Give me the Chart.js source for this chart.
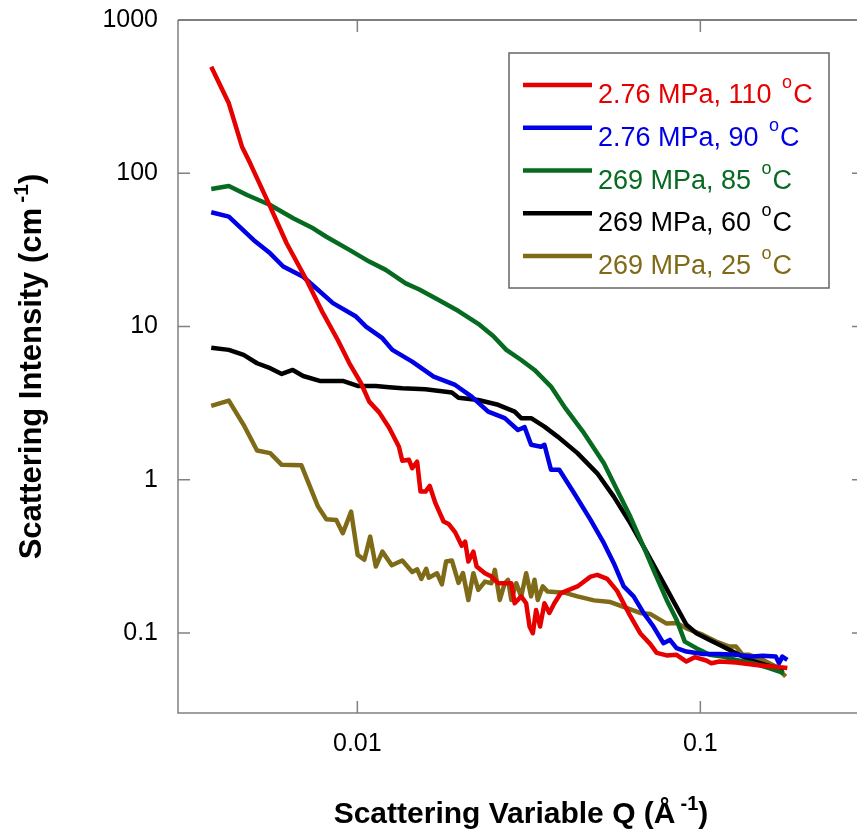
<!DOCTYPE html>
<html>
<head>
<meta charset="utf-8">
<title>Scattering intensity</title>
<script src="https://cdn.jsdelivr.net/npm/chart.js@4.4.1/dist/chart.umd.min.js"></script>
<style>
    html, body { margin: 0; padding: 0; background: #fff; overflow: hidden; }
    /* the plot runs a little past the right edge of the window, like the original */
    #wrap { position: relative; width: 880px; height: 830px; }
</style>
</head>
<body>
<div id="wrap"><canvas id="chart"></canvas></div>
<script>
// Q in 1/Angstrom, intensity in 1/cm
const qRed = [0.00375, 0.00422, 0.00461, 0.00487, 0.00557, 0.00622, 0.00711, 0.00794, 0.00877, 0.00948,
    0.01025, 0.01083, 0.01158, 0.01238, 0.01322, 0.01352, 0.01414, 0.01445, 0.01494, 0.01528,
    0.0158, 0.01626, 0.01689, 0.01784, 0.01845, 0.01929, 0.02015, 0.02062, 0.02107, 0.02179,
    0.02227, 0.02355, 0.0246, 0.02573, 0.02811, 0.02875, 0.03004, 0.03106, 0.03177, 0.03248,
    0.0332, 0.0341, 0.03511, 0.03629, 0.03752, 0.03921, 0.04382, 0.04786, 0.05005, 0.05351,
    0.05718, 0.06247, 0.06677, 0.07137, 0.07462, 0.07975, 0.08523, 0.09109, 0.09628, 0.1041,
    0.1076, 0.1137, 0.1271, 0.1452, 0.1623, 0.1793];
const iRed = [496, 286, 149, 116, 60.5, 34.9, 20.1, 12.2, 8.16, 5.75,
    4.26, 3.23, 2.75, 2.18, 1.64, 1.33, 1.35, 1.19, 1.31, 0.836,
    0.836, 0.910, 0.702, 0.533, 0.514, 0.453, 0.370, 0.394, 0.292, 0.339,
    0.271, 0.245, 0.233, 0.211, 0.211, 0.156, 0.173, 0.156, 0.110, 0.0995,
    0.141, 0.110, 0.156, 0.135, 0.156, 0.182, 0.201, 0.233, 0.239, 0.225,
    0.188, 0.129, 0.0995, 0.0848, 0.0741, 0.0713, 0.0719, 0.0650, 0.0694, 0.0660,
    0.0634, 0.0650, 0.0640, 0.0618, 0.0603, 0.0589];

const qBlue = [0.00375, 0.00422, 0.00498, 0.00557, 0.00608, 0.00695, 0.0076, 0.00849, 0.00991, 0.0106,
    0.01183, 0.01265, 0.01445, 0.01669, 0.01929, 0.02154, 0.02407, 0.0269, 0.02939, 0.03074,
    0.03211, 0.03432, 0.03511, 0.03669, 0.03879, 0.04287, 0.04786, 0.05233, 0.05593, 0.05978,
    0.06389, 0.06829, 0.07299, 0.07803, 0.08153, 0.08523, 0.09109, 0.1018, 0.1137, 0.1271,
    0.142, 0.1518, 0.1659, 0.1696, 0.1734, 0.1793];
const iBlue = [55.6, 52.1, 36.7, 30.0, 24.6, 21.1, 17.7, 14.2, 11.6, 9.97,
    8.38, 7.03, 5.89, 4.70, 4.15, 3.48, 2.78, 2.52, 2.11, 2.20,
    1.69, 1.64, 1.69, 1.16, 1.16, 0.816, 0.546, 0.385, 0.285, 0.201,
    0.173, 0.135, 0.110, 0.0857, 0.0900, 0.0795, 0.0755, 0.0729, 0.0729, 0.0719,
    0.0700, 0.0708, 0.0700, 0.0634, 0.0700, 0.0667];

const qGreen = [0.00375, 0.00422, 0.00477, 0.00557, 0.0065, 0.00743, 0.00812, 0.00948, 0.01083, 0.0121,
    0.01383, 0.01511, 0.01726, 0.01972, 0.02252, 0.02489, 0.02719, 0.03004, 0.03285, 0.03669,
    0.0401, 0.04581, 0.05233, 0.05718, 0.06247, 0.06829, 0.07299, 0.07975, 0.08523, 0.09009,
    0.09737, 0.1064, 0.1163, 0.1271, 0.142, 0.1586, 0.1752];
const iGreen = [78.9, 82.6, 72.1, 62.0, 50.8, 43.7, 38.5, 31.6, 26.5, 23.4,
    19.1, 17.5, 14.9, 12.6, 10.4, 8.67, 7.03, 6.04, 5.20, 4.05,
    3.00, 2.01, 1.28, 0.857, 0.574, 0.366, 0.258, 0.164, 0.122, 0.0877,
    0.0795, 0.0719, 0.0700, 0.0667, 0.0634, 0.0589, 0.0546];

const qBlack = [0.00375, 0.00422, 0.00466, 0.0051, 0.00557, 0.00602, 0.00648, 0.00695, 0.00777, 0.00907,
    0.01002, 0.01132, 0.01238, 0.01352, 0.0158, 0.01886, 0.01972, 0.02252, 0.02573, 0.02875,
    0.03004, 0.03211, 0.03511, 0.03835, 0.04382, 0.05005, 0.05593, 0.06247, 0.06829, 0.07629,
    0.08523, 0.09109, 0.09737, 0.1064, 0.1163, 0.1271, 0.1389, 0.1552, 0.1752];
const iBlack = [7.27, 7.03, 6.52, 5.75, 5.34, 4.90, 5.20, 4.75, 4.41, 4.41,
    4.09, 4.09, 4.01, 3.95, 3.89, 3.70, 3.42, 3.31, 3.08, 2.78,
    2.52, 2.52, 2.22, 1.91, 1.49, 1.10, 0.775, 0.520, 0.366, 0.233,
    0.148, 0.113, 0.0995, 0.0900, 0.0814, 0.0737, 0.0667, 0.0618, 0.0574];

const qOlive = [0.00375, 0.00422, 0.00466, 0.0051, 0.00557, 0.00602, 0.00687, 0.00768, 0.00812, 0.00868,
    0.00907, 0.00959, 0.01002, 0.01048, 0.0109, 0.01132, 0.01183, 0.0126, 0.01352, 0.01445,
    0.01494, 0.01536, 0.01588, 0.01615, 0.01707, 0.01764, 0.01814, 0.01886, 0.01972, 0.02032,
    0.02107, 0.02179, 0.02252, 0.02355, 0.0246, 0.02517, 0.02602, 0.0269, 0.0275, 0.02811,
    0.02906, 0.03004, 0.03106, 0.03211, 0.03285, 0.03357, 0.03471, 0.03588, 0.0401, 0.04382,
    0.04897, 0.05468, 0.06111, 0.06677, 0.07137, 0.07975, 0.08523, 0.09109, 0.1018, 0.1112,
    0.1215, 0.1271, 0.1329, 0.1389, 0.1518, 0.1659, 0.1773];
const iOlive = [3.03, 3.28, 2.28, 1.55, 1.49, 1.25, 1.24, 0.667, 0.552, 0.546,
    0.447, 0.619, 0.323, 0.300, 0.425, 0.271, 0.339, 0.276, 0.297, 0.250,
    0.260, 0.225, 0.262, 0.229, 0.245, 0.207, 0.292, 0.297, 0.212, 0.246,
    0.164, 0.245, 0.191, 0.216, 0.211, 0.258, 0.164, 0.211, 0.222, 0.164,
    0.211, 0.173, 0.245, 0.173, 0.222, 0.164, 0.201, 0.186, 0.183, 0.173,
    0.163, 0.159, 0.145, 0.135, 0.133, 0.115, 0.116, 0.107, 0.097, 0.0877,
    0.0814, 0.0814, 0.0719, 0.0719, 0.0667, 0.0603, 0.0519];

const seriesLabels = ['2.76 MPa, 110 °C', '2.76 MPa, 90 °C', '269 MPa, 85 °C', '269 MPa, 60 °C', '269 MPa, 25 °C'];
const seriesColors = ['#e60000', '#0000e6', '#066a20', '#000000', '#7f6b17'];

const xTickValues = [0.01, 0.1];
const yTickValues = [0.1, 1, 10, 100, 1000];
const xTitleParts = ['Scattering Variable Q (Å', '-1', ')'];
const yTitleParts = ['Scattering Intensity (cm', '-1', ')'];

const FONT = "'Liberation Sans', Arial, sans-serif";

function toPoints(qs, vals) {
    return qs.map((q, k) => ({ x: q, y: vals[k] }));
}

function tickLabel(value, list) {
    const hit = list.find(t => Math.abs(value / t - 1) < 1e-6);
    return hit === undefined ? '' : String(hit);
}

// title text with a raised "-1"
function drawRich(ctx, parts, cx, baseY, size) {
    const big = 'bold ' + size + 'px ' + FONT;
    const small = 'bold ' + Math.round(size * 0.67) + 'px ' + FONT;
    ctx.font = big;
    const w0 = ctx.measureText(parts[0]).width;
    const w2 = ctx.measureText(parts[2]).width;
    ctx.font = small;
    const w1 = ctx.measureText(parts[1]).width;
    const gap = size * 0.17;
    let x = cx - (w0 + gap + w1 + w2) / 2;
    ctx.fillStyle = '#000';
    ctx.textAlign = 'left';
    ctx.textBaseline = 'alphabetic';
    ctx.font = big;
    ctx.fillText(parts[0], x, baseY);
    x += w0 + gap;
    ctx.font = small;
    ctx.fillText(parts[1], x, baseY - size * 0.43);
    x += w1;
    ctx.font = big;
    ctx.fillText(parts[2], x, baseY);
}

const framePlugin = {
    id: 'framePlugin',
    afterDraw(chart) {
        const ctx = chart.ctx;
        const ca = chart.chartArea;
        const xs = chart.scales.x;
        const ys = chart.scales.y;
        ctx.save();

        // axes: grey left/bottom/right, black top
        ctx.lineWidth = 1.5;
        ctx.strokeStyle = '#808080';
        ctx.beginPath();
        ctx.moveTo(ca.left, ca.top);
        ctx.lineTo(ca.left, ca.bottom);
        ctx.lineTo(ca.right, ca.bottom);
        ctx.lineTo(ca.right, ca.top);
        ctx.stroke();
        ctx.strokeStyle = '#000';
        ctx.lineWidth = 1.2;
        ctx.beginPath();
        ctx.moveTo(ca.left, ca.top);
        ctx.lineTo(ca.right, ca.top);
        ctx.stroke();

        // inward tick marks at the decades
        const tl = 12;
        ctx.strokeStyle = '#808080';
        ctx.lineWidth = 1.5;
        ctx.beginPath();
        xTickValues.forEach(v => {
            const px = xs.getPixelForValue(v);
            ctx.moveTo(px, ca.bottom); ctx.lineTo(px, ca.bottom - tl);
            ctx.moveTo(px, ca.top); ctx.lineTo(px, ca.top + tl);
        });
        yTickValues.forEach(v => {
            const py = ys.getPixelForValue(v);
            ctx.moveTo(ca.left, py); ctx.lineTo(ca.left + tl, py);
            ctx.moveTo(ca.right, py); ctx.lineTo(ca.right - tl, py);
        });
        ctx.stroke();

        // legend box, top right inside the plot
        const bx = ca.right - 355, by = ca.top + 33, bw = 320, bh = 235;
        ctx.fillStyle = '#fff';
        ctx.fillRect(bx, by, bw, bh);
        ctx.strokeStyle = '#666';
        ctx.lineWidth = 1.5;
        ctx.strokeRect(bx, by, bw, bh);
        chart.data.datasets.forEach((ds, k) => {
            const ly = by + 32 + k * 42.75;
            ctx.strokeStyle = ds.borderColor;
            ctx.lineWidth = 4.5;
            ctx.beginPath();
            ctx.moveTo(bx + 14, ly);
            ctx.lineTo(bx + 83, ly);
            ctx.stroke();

            const parts = ds.label.split('°');
            const base = ly + 18;
            let tx = bx + 89;
            ctx.fillStyle = ds.borderColor;
            ctx.textAlign = 'left';
            ctx.textBaseline = 'alphabetic';
            ctx.font = '27px ' + FONT;
            ctx.fillText(parts[0], tx, base);
            tx += ctx.measureText(parts[0]).width + 3;
            ctx.font = '18px ' + FONT;
            ctx.fillText('o', tx, base - 15);
            tx += ctx.measureText('o').width + 1;
            ctx.font = '27px ' + FONT;
            ctx.fillText(parts[1], tx, base);
        });

        // axis titles
        drawRich(ctx, xTitleParts, (ca.left + ca.right) / 2, 823, 30);
        ctx.translate(41, (ca.top + ca.bottom) / 2);
        ctx.rotate(-Math.PI / 2);
        drawRich(ctx, yTitleParts, 0, 0, 31);

        ctx.restore();
    }
};

const allQ = [qRed, qBlue, qGreen, qBlack, qOlive];
const allI = [iRed, iBlue, iGreen, iBlack, iOlive];

const ctx = document.getElementById('chart').getContext('2d');
const chart = new Chart(ctx, {
    type: 'line',
    data: {
        datasets: seriesLabels.map((label, k) => ({
            label: label,
            data: toPoints(allQ[k], allI[k]),
            borderColor: seriesColors[k],
            backgroundColor: seriesColors[k],
            borderWidth: 4.5,
            borderJoinStyle: 'round',
            pointRadius: 0,
            pointHoverRadius: 0,
            tension: 0,
            fill: false
        }))
    },
    options: {
        responsive: true,
        maintainAspectRatio: false,
        animation: false,
        events: [],
        layout: { padding: { top: 20, right: 12, left: 0, bottom: 0 } },
        plugins: {
            legend: { display: false },
            tooltip: { enabled: false }
        },
        scales: {
            x: {
                type: 'logarithmic',
                position: 'bottom',
                min: 0.003,
                max: 0.3,
                grid: { display: false, drawTicks: false },
                border: { display: false },
                ticks: {
                    autoSkip: false,
                    maxRotation: 0,
                    minRotation: 0,
                    padding: 16,
                    color: '#000',
                    font: { family: FONT, size: 25 },
                    callback: (value) => tickLabel(value, xTickValues)
                },
                afterFit: (scale) => { scale.height = 117; }
            },
            y: {
                type: 'logarithmic',
                position: 'left',
                min: 0.03,
                max: 1000,
                grid: { display: false, drawTicks: false },
                border: { display: false },
                ticks: {
                    autoSkip: false,
                    padding: 20,
                    color: '#000',
                    font: { family: FONT, size: 25 },
                    callback: (value) => tickLabel(value, yTickValues)
                },
                // fixed axis width; drop the label overhang so the plot top sits at the layout padding
                afterFit: (scale) => {
                    scale.width = 178;
                    scale.paddingTop = 0;
                    scale.paddingBottom = 0;
                }
            }
        }
    },
    plugins: [framePlugin]
});
</script>
</body>
</html>
